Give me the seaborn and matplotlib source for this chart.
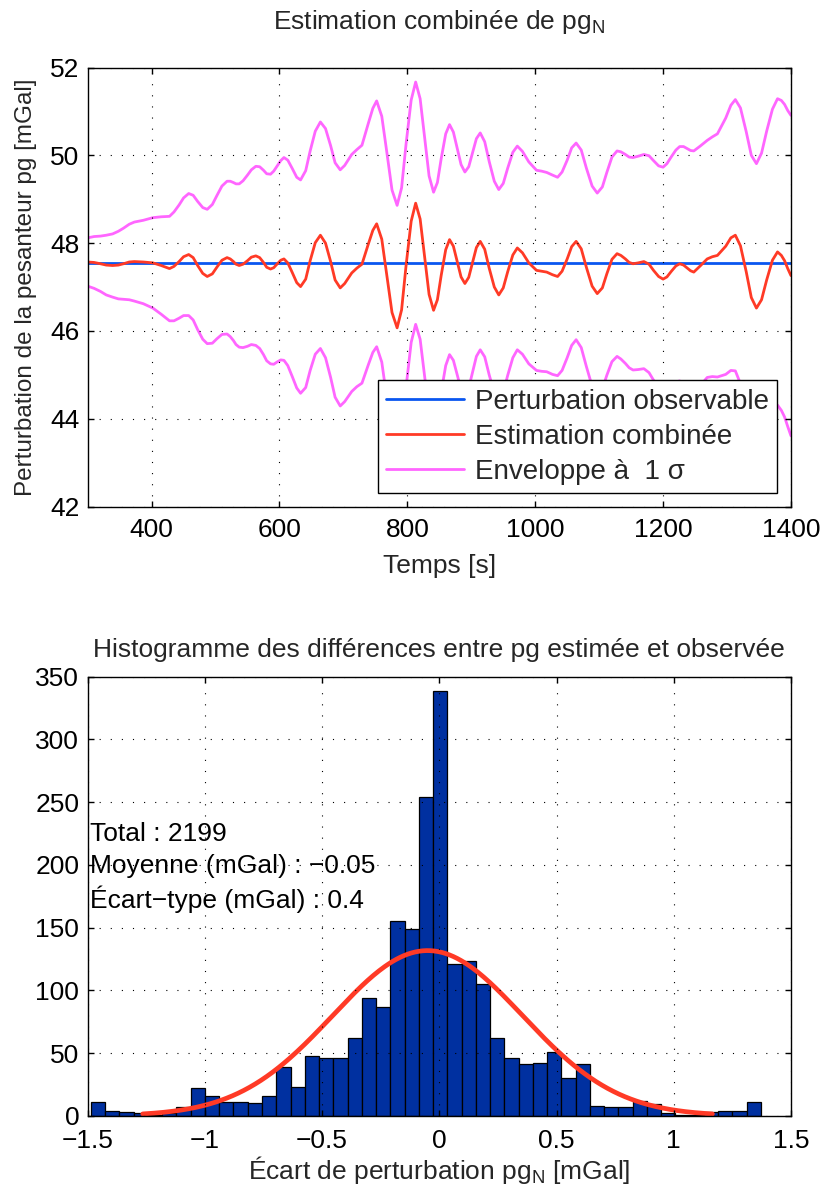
import numpy as np
import pandas as pd
import matplotlib
matplotlib.use("Agg")
import matplotlib.pyplot as plt
import seaborn as sns

# ---------------- data: top panel ----------------
time_s = [300, 310, 320, 329, 339, 348, 356, 365, 373, 387, 402, 415, 428, 435, 443, 450,
          458, 465, 472, 480, 487, 495, 502, 510, 518, 523, 528, 532, 537, 543, 550, 556,
          563, 569, 575, 580, 586, 591, 596, 602, 607, 613, 620, 627, 633, 641, 648, 656,
          664, 672, 680, 687, 695, 702, 713, 721, 729, 739, 746, 752, 760, 768, 776, 784,
          791, 798, 806, 813, 820, 827, 834, 841, 847, 853, 860, 866, 872, 878, 884, 890,
          896, 902, 908, 914, 921, 928, 936, 943, 950, 957, 965, 972, 980, 990, 1002, 1010,
          1018, 1027, 1035, 1042, 1050, 1057, 1064, 1072, 1080, 1089, 1097, 1105, 1112, 1120,
          1128, 1134, 1141, 1147, 1153, 1161, 1170, 1178, 1185, 1193, 1200, 1206, 1213, 1220,
          1226, 1232, 1237, 1243, 1248, 1258, 1269, 1277, 1285, 1298, 1306, 1313, 1321, 1330,
          1338, 1346, 1354, 1362, 1371, 1379, 1385, 1390, 1395, 1400]

estimate = [47.57, 47.56, 47.53, 47.50, 47.49, 47.50, 47.53, 47.57, 47.58, 47.57, 47.55, 47.49,
            47.42, 47.47, 47.58, 47.69, 47.74, 47.67, 47.49, 47.31, 47.24, 47.30, 47.45, 47.61,
            47.67, 47.64, 47.58, 47.52, 47.49, 47.52, 47.60, 47.68, 47.71, 47.67, 47.56, 47.45,
            47.41, 47.44, 47.52, 47.61, 47.64, 47.55, 47.33, 47.10, 47.01, 47.18, 47.60, 48.01,
            48.18, 48.00, 47.58, 47.16, 46.98, 47.08, 47.32, 47.43, 47.52, 47.98, 48.29, 48.44,
            48.09, 47.26, 46.42, 46.07, 46.48, 47.49, 48.50, 48.91, 48.55, 47.69, 46.83, 46.47,
            46.71, 47.27, 47.85, 48.08, 47.93, 47.58, 47.23, 47.08, 47.22, 47.56, 47.90, 48.04,
            47.86, 47.43, 47.00, 46.82, 46.98, 47.35, 47.73, 47.89, 47.78, 47.55, 47.38, 47.36,
            47.34, 47.28, 47.24, 47.36, 47.64, 47.92, 48.04, 47.87, 47.45, 47.02, 46.85, 46.98,
            47.30, 47.63, 47.76, 47.72, 47.64, 47.56, 47.53, 47.55, 47.58, 47.52, 47.38, 47.24,
            47.18, 47.23, 47.36, 47.48, 47.53, 47.50, 47.44, 47.37, 47.34, 47.48, 47.64, 47.69,
            47.72, 47.93, 48.12, 48.18, 47.94, 47.35, 46.76, 46.52, 46.71, 47.16, 47.61, 47.80,
            47.72, 47.60, 47.42, 47.26]

sigma = [0.55, 0.59, 0.63, 0.68, 0.72, 0.77, 0.81, 0.86, 0.90, 0.95, 1.03, 1.11, 1.19, 1.24,
         1.29, 1.34, 1.39, 1.42, 1.46, 1.50, 1.53, 1.58, 1.63, 1.69, 1.74, 1.77, 1.80, 1.83,
         1.86, 1.90, 1.95, 1.99, 2.04, 2.07, 2.10, 2.13, 2.16, 2.20, 2.23, 2.27, 2.31, 2.34,
         2.37, 2.40, 2.43, 2.47, 2.50, 2.54, 2.58, 2.61, 2.64, 2.67, 2.69, 2.69, 2.70, 2.70,
         2.71, 2.75, 2.78, 2.80, 2.80, 2.80, 2.79, 2.79, 2.78, 2.77, 2.76, 2.76, 2.74, 2.72,
         2.70, 2.69, 2.67, 2.66, 2.64, 2.62, 2.60, 2.58, 2.56, 2.54, 2.52, 2.50, 2.48, 2.47,
         2.45, 2.43, 2.41, 2.40, 2.38, 2.36, 2.34, 2.32, 2.31, 2.30, 2.28, 2.28, 2.27, 2.27,
         2.26, 2.26, 2.25, 2.25, 2.24, 2.25, 2.26, 2.28, 2.29, 2.30, 2.31, 2.33, 2.34, 2.36,
         2.38, 2.40, 2.42, 2.43, 2.44, 2.47, 2.50, 2.52, 2.55, 2.58, 2.61, 2.64, 2.67, 2.70,
         2.72, 2.74, 2.76, 2.73, 2.70, 2.73, 2.77, 2.92, 3.02, 3.09, 3.14, 3.19, 3.24, 3.29,
         3.34, 3.39, 3.44, 3.49, 3.53, 3.56, 3.60, 3.65]

observed_level = 47.54

# ---------------- data: bottom panel ----------------
bin_left = -1.486
bin_width = 0.0608
hist_counts = [11, 4, 3, 2, 1, 2, 7, 22, 16, 11, 11, 10, 16, 39, 23, 48, 46, 46, 62, 94,
               87, 155, 149, 254, 339, 121, 123, 105, 62, 46, 41, 42, 51, 30, 41, 8, 7, 7,
               12, 9, 2, 1, 1, 3, 4, 4, 11]
n_total = 2199
fit_mean = -0.05
fit_std = 0.405

top_xticks = [400, 600, 800, 1000, 1200, 1400]
top_yticks = [42, 44, 46, 48, 50, 52]
bot_xticks = [-1.5, -1, -0.5, 0, 0.5, 1, 1.5]
bot_xticklabels = ["\u22121.5", "\u22121", "\u22120.5", "0", "0.5", "1", "1.5"]
bot_yticks = [0, 50, 100, 150, 200, 250, 300, 350]

legend_labels = ["Perturbation observable", "Estimation combinée", "Enveloppe à  1 σ"]
stats_lines = ["Total : 2199", "Moyenne (mGal) : \u22120.05", "Écart\u2212type (mGal) : 0.4"]

# ---------------- style ----------------
sns.set_theme(style="white")
plt.rcParams["font.family"] = ["Liberation Sans", "DejaVu Sans"]
plt.rcParams["mathtext.fontset"] = "custom"
plt.rcParams["mathtext.rm"] = "Liberation Sans"
plt.rcParams["mathtext.it"] = "Liberation Sans"
plt.rcParams["axes.unicode_minus"] = True

FS = 19
C_BLUE = "#0A56F0"
C_RED = "#FF3A26"
C_MAG = "#FF66FF"
C_BAR = "#0030A0"

fig = plt.figure(figsize=(8.24, 11.89), dpi=100)
ax1 = fig.add_axes([0.1064, 0.574, 0.8535, 0.3692])
ax2 = fig.add_axes([0.1064, 0.0616, 0.8535, 0.3692])


def style_axes(ax, xpad):
    for s in ax.spines.values():
        s.set_visible(True)
        s.set_color("black")
        s.set_linewidth(1.0)
    ax.tick_params(direction="in", length=4, width=1.0, top=True, right=True,
                   bottom=True, left=True, labelsize=FS, pad=6, colors="black")
    ax.tick_params(axis="x", pad=xpad)
    ax.grid(True, color="black", linestyle=(0, (1, 9)), linewidth=0.8)
    ax.set_axisbelow(False)


# ---------------- top panel ----------------
t = np.array(time_s)
est = np.array(estimate)
sig = np.array(sigma)
obs = np.full_like(est, observed_level)

sns.lineplot(x=t, y=obs, ax=ax1, color=C_BLUE, linewidth=2.0, label=legend_labels[0])
sns.lineplot(x=t, y=est, ax=ax1, color=C_RED, linewidth=2.0, label=legend_labels[1])
sns.lineplot(x=t, y=est + sig, ax=ax1, color=C_MAG, linewidth=2.0, label=legend_labels[2])
sns.lineplot(x=t, y=est - sig, ax=ax1, color=C_MAG, linewidth=2.0, label="_nolegend_")

ax1.set_xlim(300, 1400)
ax1.set_ylim(42, 52)
ax1.set_xticks(top_xticks)
ax1.set_yticks(top_yticks)
style_axes(ax1, 8)
ax1.set_title(r"Estimation combinée de pg$_{\mathrm{N}}$", fontsize=FS, pad=28)
ax1.set_xlabel("Temps [s]", fontsize=FS, labelpad=9)
ax1.set_ylabel("Perturbation de la pesanteur pg [mGal]", fontsize=17.5, labelpad=9)

handles, labels = ax1.get_legend_handles_labels()
leg = ax1.legend(handles[:3], labels[:3], loc="lower right", bbox_to_anchor=(0.98, 0.031),
                 borderaxespad=0, fontsize=20, frameon=True, fancybox=False, framealpha=1,
                 edgecolor="black", handlelength=2.8, handletextpad=0.38,
                 labelspacing=0.32, borderpad=0.3)
leg.get_frame().set_linewidth(1.0)

# ---------------- bottom panel ----------------
edges = bin_left + bin_width * np.arange(len(hist_counts) + 1)
centers = (edges[:-1] + edges[1:]) / 2
hist_df = pd.DataFrame({"center": centers, "count": np.array(hist_counts, dtype=float)})
sns.histplot(data=hist_df, x="center", weights="count", bins=edges.tolist(), ax=ax2,
             color=C_BAR, alpha=1, edgecolor="black", linewidth=0.9)

xf = np.linspace(fit_mean - 3 * fit_std, fit_mean + 3 * fit_std, 300)
yf = n_total * bin_width / (fit_std * np.sqrt(2 * np.pi)) * np.exp(-0.5 * ((xf - fit_mean) / fit_std) ** 2)
sns.lineplot(x=xf, y=yf, ax=ax2, color=C_RED, linewidth=3.4)

ax2.set_xlim(-1.5, 1.5)
ax2.set_ylim(0, 350)
ax2.set_xticks(bot_xticks)
ax2.set_xticklabels(bot_xticklabels)
ax2.set_yticks(bot_yticks)
style_axes(ax2, 9.5)
ax2.set_ylabel("")
ax2.set_title("Histogramme des différences entre pg estimée et observée", fontsize=FS, pad=14.5)
ax2.set_xlabel(r"Écart de perturbation pg$_{\mathrm{N}}$ [mGal]", fontsize=FS, labelpad=0.5)

for i, line in enumerate(stats_lines):
    ax2.text(-1.492, 225 - 26 * i, line, fontsize=FS, va="center", ha="left", color="black")

fig.savefig("out.png", dpi=100)
